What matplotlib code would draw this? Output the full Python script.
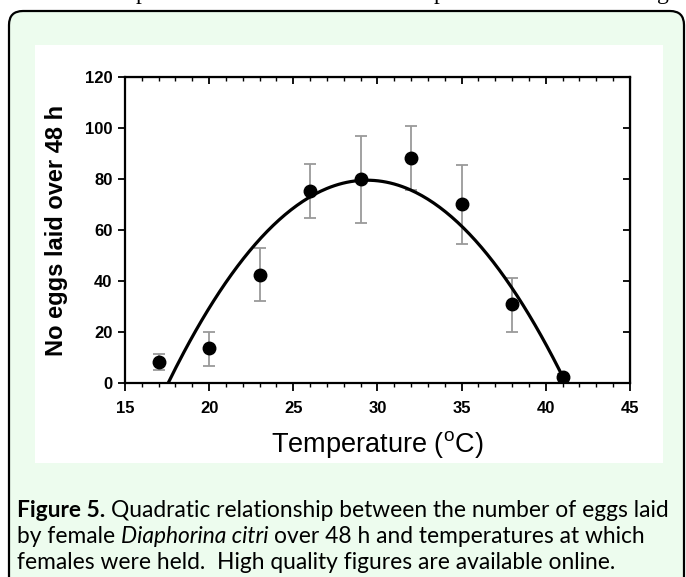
import matplotlib
matplotlib.use("Agg")
import matplotlib.pyplot as plt
import numpy as np
from matplotlib.patches import FancyBboxPatch, Rectangle
from matplotlib.ticker import MultipleLocator

# observed means and error bar ends (eggs per female over 48 h)
temperature = [17, 20, 23, 26, 29, 32, 35, 38, 41]
eggs_mean = [8.3, 13.6, 42.5, 75.4, 80.0, 88.2, 70.1, 31.0, 2.5]
eggs_low = [5.1, 6.7, 32.3, 64.7, 62.7, 75.7, 54.5, 20.1, 1.5]
eggs_high = [11.4, 20.1, 52.9, 86.0, 97.0, 100.9, 85.5, 41.2, 3.5]

# quadratic fit: y = c2*x^2 + c1*x + c0
fit_coef = [-0.570, 33.49, -412.4]
fit_range = (17.56, 41.0)

x_ticks = [15, 20, 25, 30, 35, 40, 45]
y_ticks = [0, 20, 40, 60, 80, 100, 120]

caption_lines = [
    [("Figure 5.", "bold", "normal"), (" Quadratic relationship between the number of eggs laid", "normal", "normal")],
    [("by female ", "normal", "normal"), ("Diaphorina citri", "normal", "italic"),
     (" over 48 h and temperatures at which", "normal", "normal")],
    [("females were held.  High quality figures are available online.", "normal", "normal")],
]

W, H = 686, 577
plt.rcParams["mathtext.fontset"] = "custom"
plt.rcParams["mathtext.rm"] = "Liberation Sans"

fig = plt.figure(figsize=(W / 100, H / 100), dpi=100)
fig.patch.set_facecolor("white")

# background layer in pixel coordinates
bg = fig.add_axes([0, 0, 1, 1])
bg.set_xlim(0, W)
bg.set_ylim(H, 0)
bg.axis("off")
bg.add_patch(FancyBboxPatch((9, 11), 675, 620, boxstyle="round,pad=0,rounding_size=14",
                            facecolor="#edfcee", edgecolor="black", linewidth=1.6))
bg.add_patch(Rectangle((35, 45), 628, 418, facecolor="white", edgecolor="none"))

# descenders of the line of page text cut off above the box
for ch, px in [("p", 136), ("p", 434), ("g", 657)]:
    bg.text(px, -1, ch, fontsize=17, family="Liberation Serif", va="baseline", ha="left")

ax = fig.add_axes([125 / W, 1 - 383 / H, 505 / W, 306 / H])
ax.set_facecolor("white")

fit_x = np.linspace(fit_range[0], fit_range[1], 200)
ax.plot(fit_x, np.polyval(fit_coef, fit_x), color="black", linewidth=2.3, zorder=2)

mean = np.array(eggs_mean)
yerr = [mean - np.array(eggs_low), np.array(eggs_high) - mean]
ax.errorbar(temperature, eggs_mean, yerr=yerr, fmt="none", ecolor="#9a9a9a",
            elinewidth=1.3, capsize=4.5, capthick=1.3, zorder=1)
ax.plot(temperature, eggs_mean, "o", color="black", markersize=9, zorder=3)

ax.set_xlim(15, 45)
ax.set_ylim(0, 120)
ax.set_xticks(x_ticks)
ax.set_yticks(y_ticks)
ax.xaxis.set_minor_locator(MultipleLocator(1))

for spine in ax.spines.values():
    spine.set_linewidth(1.6)

ax.tick_params(axis="x", which="major", direction="out", length=6, width=1.3,
               labelsize=12, pad=7)
ax.tick_params(axis="x", which="minor", direction="out", length=3, width=1.0)
ax.tick_params(axis="y", which="major", direction="out", length=5, width=1.3,
               labelsize=12, pad=4)
for lab in ax.get_xticklabels() + ax.get_yticklabels():
    lab.set_fontweight("bold")
    lab.set_family("Liberation Sans")

# inward ticks on top and right
top = ax.secondary_xaxis("top")
top.set_xticks(x_ticks)
top.xaxis.set_minor_locator(MultipleLocator(1))
top.tick_params(which="major", direction="in", length=5, width=1.3, labeltop=False)
top.tick_params(which="minor", direction="in", length=3, width=1.0)
right = ax.secondary_yaxis("right")
right.set_yticks(y_ticks)
right.tick_params(direction="in", length=5, width=1.3, labelright=False)

ax.set_xlabel(r"Temperature ($^{\mathrm{o}}$C)", fontsize=19.5, family="Liberation Sans",
              labelpad=9)
ax.set_ylabel("No eggs laid over 48 h", fontsize=17, fontweight="bold",
              family="Liberation Sans", labelpad=12)

# caption with mixed bold / italic runs
renderer = fig.canvas.get_renderer()
cap_size = 16.4


def text_width(s, weight, style):
    t = bg.text(0, 0, s, fontsize=cap_size, family="Lato", fontweight=weight, fontstyle=style)
    w = t.get_window_extent(renderer).width
    t.remove()
    return w


space_w = text_width("n n", "normal", "normal") - text_width("nn", "normal", "normal")
for i, runs in enumerate(caption_lines):
    x = 17
    y = 517 + i * 26
    for s, weight, style in runs:
        lead = len(s) - len(s.lstrip(" "))
        x += lead * space_w
        s = s.lstrip(" ")
        bg.text(x, y, s, fontsize=cap_size, family="Lato", fontweight=weight, fontstyle=style,
                va="baseline", ha="left")
        x += text_width(s, weight, style)

fig.savefig("out.png", dpi=100)
